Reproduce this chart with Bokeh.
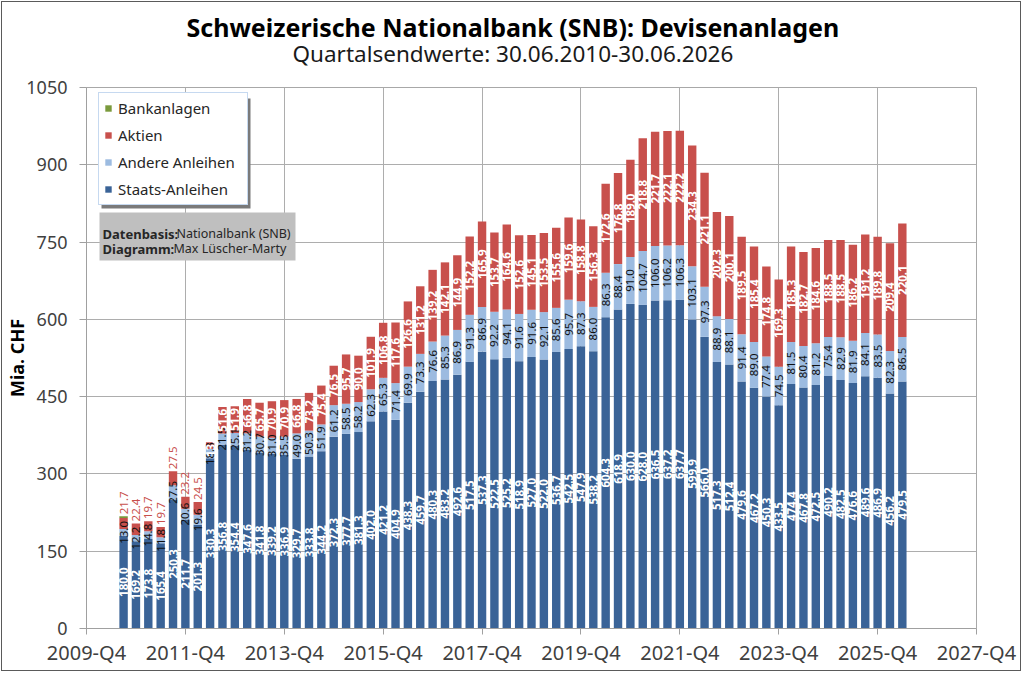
import math
from bokeh.plotting import figure
from bokeh.models import (ColumnDataSource, Range1d, FixedTicker, Legend, LegendItem,
                          BoxAnnotation, Label, Title)
from bokeh.core.properties import value
from bokeh.embed import file_html
from bokeh.resources import INLINE

# ---------------- data ----------------
quarters = [f"{y}-Q{q}" for y in range(2010, 2027) for q in range(1, 5)][2:-2]  # 2010-Q3 .. 2026-Q2

staats = [180.0, 169.2, 173.8, 165.4, 250.3, 211.7, 201.3, 330.3, 356.8, 354.4,
          347.6, 341.8, 339.2, 336.9, 329.7, 333.8, 344.2, 372.3, 377.7, 381.3,
          402.0, 421.2, 404.9, 438.3, 459.7, 480.3, 483.2, 492.6, 517.5, 537.3,
          522.5, 525.2, 518.9, 527.0, 522.0, 536.7, 542.5, 547.9, 538.2, 604.3,
          618.9, 630.0, 628.0, 636.5, 637.2, 637.7, 599.9, 566.0, 517.3, 512.4,
          479.6, 467.2, 450.3, 433.5, 474.4, 467.8, 472.5, 490.2, 482.5, 476.6,
          489.6, 486.9, 456.2, 479.5]

andere = [13.0, 12.2, 14.8, 11.8, 27.5, 20.6, 19.6, 18.3, 21.5, 25.1,
          31.2, 30.7, 31.0, 35.5, 49.0, 50.3, 51.9, 61.2, 58.5, 58.2,
          62.3, 65.3, 71.4, 69.9, 73.3, 76.6, 85.3, 86.9, 91.3, 86.9,
          92.2, 94.1, 91.6, 91.6, 92.1, 85.6, 95.7, 87.3, 86.0, 86.3,
          88.4, 91.0, 104.7, 106.0, 106.2, 106.3, 103.1, 97.3, 88.9, 88.1,
          91.4, 89.0, 77.4, 74.5, 81.5, 80.4, 81.2, 75.4, 82.9, 81.9,
          84.1, 83.5, 82.3, 86.5]

aktien = [21.7, 22.4, 19.7, 19.7, 27.5, 23.2, 24.5, 13.0, 51.6, 51.9,
          66.8, 65.7, 70.9, 70.9, 66.8, 73.2, 75.4, 76.5, 95.7, 90.0,
          101.9, 106.8, 117.6, 126.6, 131.2, 139.2, 142.1, 144.9, 152.2, 165.9,
          153.7, 164.6, 152.6, 145.1, 153.5, 155.6, 159.6, 158.8, 156.3, 172.6,
          176.8, 189.0, 218.8, 221.7, 222.1, 222.2, 234.3, 221.1, 202.3, 200.1,
          189.5, 185.4, 174.8, 169.3, 185.3, 182.7, 184.6, 188.5, 188.5, 186.2,
          191.2, 189.8, 209.4, 220.1]

bank = [3.0] + [0.0] * 63

tick_labels = ["2009-Q4", "2011-Q4", "2013-Q4", "2015-Q4", "2017-Q4",
               "2019-Q4", "2021-Q4", "2023-Q4", "2025-Q4", "2027-Q4"]
y_ticks = [0, 150, 300, 450, 600, 750, 900, 1050]

series_names = ["Staats-Anleihen", "Andere Anleihen", "Aktien", "Bankanlagen"]
colors = {"Staats-Anleihen": "#3A6397", "Andere Anleihen": "#9CBBE0",
          "Aktien": "#C8504C", "Bankanlagen": "#7A9A3C"}

title_text = "Schweizerische Nationalbank (SNB): Devisenanlagen"
subtitle_text = "Quartalsendwerte: 30.06.2010-30.06.2026"

# ---------------- helpers ----------------
def qpos(label):
    y, q = label.split("-Q")
    return (int(y) - 2009) * 4 + int(q) - 4

X0, X1 = qpos(tick_labels[0]), qpos(tick_labels[-1])
Y0, Y1 = 0, 1050
PAGE = 2            # 1px margin + 1px border around the figure
W, H = 1020, 670
BL, BT = 84, 85
FW, FH = 890, 541
BR, BB = W - BL - FW, H - BT - FH

def dx(px_abs):
    return X0 + (px_abs - PAGE - BL) * (X1 - X0) / FW

def dy(py_abs):
    return Y0 + (PAGE + BT + FH - py_abs) * (Y1 - Y0) / FH

FONT = "Noto Sans"

xs = [qpos(q) for q in quarters]
source = ColumnDataSource(dict(x=xs, staats=staats, andere=andere, aktien=aktien, bank=bank))

p = figure(width=W, height=H, x_range=Range1d(X0, X1), y_range=Range1d(Y0, Y1),
           output_backend="svg", toolbar_location=None, title=None,
           min_border_left=BL, min_border_right=BR, min_border_top=BT, min_border_bottom=BB)
p.background_fill_color = "white"
p.border_fill_color = "white"
p.outline_line_color = "#A8A8A8"
p.styles = {"border": "1px solid #5A5A5A", "margin": "1px"}

# titles (added nearest-first), left aligned with offsets so they centre on the canvas
p.add_layout(Title(text=subtitle_text, align="left", offset=206, standoff=37,
                   text_font=FONT, text_font_size="22.5px", text_font_style="normal",
                   text_color="#1A1A1A"), "above")
p.add_layout(Title(text=title_text, align="left", offset=100, standoff=-52,
                   text_font=FONT, text_font_size="25px", text_font_style="bold",
                   text_color="black"), "above")

# grid / axes
p.xgrid.ticker = FixedTicker(ticks=[qpos(t) for t in tick_labels])
p.ygrid.ticker = FixedTicker(ticks=y_ticks)
p.xgrid.grid_line_color = "#ADADAD"
p.ygrid.grid_line_color = "#ADADAD"
p.xaxis.ticker = FixedTicker(ticks=[qpos(t) for t in tick_labels])
p.xaxis.major_label_overrides = {qpos(t): t for t in tick_labels}
p.yaxis.ticker = FixedTicker(ticks=y_ticks)
for ax in (p.xaxis, p.yaxis):
    ax.axis_line_color = "#A0A0A0"
    ax.major_tick_line_color = "#A0A0A0"
    ax.minor_tick_line_color = None
    ax.major_tick_in = 0
    ax.major_label_text_font = FONT
    ax.major_label_text_color = "#404040"
p.yaxis.major_label_text_font_size = "18px"
p.xaxis.major_label_text_font_size = "20px"
p.yaxis.major_tick_out = 7
p.yaxis.major_label_standoff = 12
p.xaxis.major_tick_out = 6
p.xaxis.major_label_standoff = 4
p.yaxis.axis_label = "Mia. CHF"
p.yaxis.axis_label_text_font = FONT
p.yaxis.axis_label_text_font_size = "18px"
p.yaxis.axis_label_text_font_style = "bold"
p.yaxis.axis_label_text_color = "black"
p.yaxis.axis_label_standoff = -6

# stacked bars
stack_cols = ["staats", "andere", "aktien", "bank"]
rends = p.vbar_stack(stack_cols, x="x", width=0.68, source=source,
                     color=[colors[n] for n in series_names], line_color=None)
rmap = dict(zip(series_names, rends))

# value labels
lab_s = dict(x=[], y=[], t=[])
lab_a = dict(x=[], y=[], t=[])
lab_k_in = dict(x=[], y=[], t=[])
lab_k_out = dict(x=[], y=[], t=[])
for i, x in enumerate(xs):
    s, a, k, b = staats[i], andere[i], aktien[i], bank[i]
    lab_s["x"].append(x); lab_s["y"].append(s / 2); lab_s["t"].append(f"{s:.1f}")
    lab_a["x"].append(x); lab_a["y"].append(s + a / 2); lab_a["t"].append(f"{a:.1f}")
    if k < 30 and i < 7:
        lab_k_out["x"].append(x); lab_k_out["y"].append(s + a + k + b + 4)
        lab_k_out["t"].append(f"{k:.1f}")
    else:
        lab_k_in["x"].append(x); lab_k_in["y"].append(s + a + k / 2)
        lab_k_in["t"].append(f"{k:.1f}")

common = dict(x="x", y="y", text="t", angle=math.pi / 2, text_baseline="middle",
              text_font=value(FONT), text_font_size=value("11.5px"))
p.text(source=ColumnDataSource(lab_s), text_align="center", text_color="white",
       text_font_style="bold", **common)
p.text(source=ColumnDataSource(lab_a), text_align="center", text_color="#111111",
       **common)
p.text(source=ColumnDataSource(lab_k_in), text_align="center", text_color="white",
       text_font_style="bold", **common)
p.text(source=ColumnDataSource(lab_k_out), text_align="left", text_color="#C8504C",
       **common)

# legend with shadow
shadow = BoxAnnotation(left=dx(101), right=dx(250), top=dy(98), bottom=dy(208),
                       fill_color="#7A7A7A", fill_alpha=1.0, line_color=None)
p.add_layout(shadow)
legend = Legend(items=[LegendItem(label=n, renderers=[rmap[n]]) for n in
                       ["Bankanlagen", "Aktien", "Andere Anleihen", "Staats-Anleihen"]],
                location=(12, 423), margin=0, padding=5, spacing=7,
                label_height=20, glyph_height=8, glyph_width=8, label_standoff=6,
                label_width=124,
                label_text_font=FONT, label_text_font_size="15px",
                label_text_color="#262626",
                border_line_color="#8DB3E2", border_line_width=1,
                background_fill_color="white", background_fill_alpha=1.0)
p.add_layout(legend)

# info box
info = BoxAnnotation(left=dx(99), right=dx(295), top=dy(212), bottom=dy(260),
                     fill_color="#BFBFBF", fill_alpha=1.0, line_color=None)
p.add_layout(info)
for txt, px, py, st, fs in [("Datenbasis:", 102, 233, "bold", "13px"),
                            ("Nationalbank (SNB)", 176, 233, "normal", "12.5px"),
                            ("Diagramm:", 102, 248, "bold", "13px"),
                            ("Max Lüscher-Marty", 173, 248, "normal", "12.5px")]:
    p.add_layout(Label(x=dx(px), y=dy(py), text=txt, text_font=FONT,
                       text_font_size=fs, text_font_style=st,
                       text_color="#262626", text_baseline="alphabetic",
                       text_align="left"))

open("out.html", "w").write(file_html(p, INLINE))
